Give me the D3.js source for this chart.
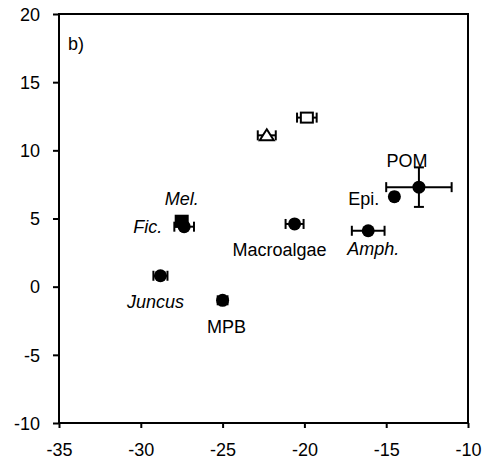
<!DOCTYPE html>
<html>
<head>
<meta charset="utf-8">
<script src="https://cdn.jsdelivr.net/npm/d3@7"></script>
<style>
  html, body { margin: 0; padding: 0; background: #fff; }
  svg { display: block; font-family: "Liberation Sans", Arial, sans-serif; }
</style>
</head>
<body>
<svg id="chart" width="491" height="468"></svg>
<script>
// Carbon (x) and nitrogen (y) isotope means with standard errors
const names  = ["Mel.", "Fic.", "Juncus", "MPB", "Macroalgae", "", "", "Amph.", "Epi.", "POM"];
const xMean  = [-27.5, -27.35, -28.8, -25.0, -20.6, -22.3, -19.85, -16.1, -14.5, -13.0];
const yMean  = [4.8, 4.4, 0.8, -1.0, 4.6, 11.1, 12.4, 4.1, 6.6, 7.3];
const xErr   = [0.0, 0.6, 0.43, 0.3, 0.55, 0.55, 0.6, 1.0, 0.2, 2.0];
const yErr   = [0.0, 0.0, 0.0, 0.0, 0.0, 0.0, 0.0, 0.0, 0.0, 1.45];
const shapes = ["fsquare", "circle", "circle", "circle", "circle", "otri", "osquare", "circle", "circle", "circle"];
const italic = [true, true, true, false, false, false, false, true, false, false];

const xTicks = [-35, -30, -25, -20, -15, -10];
const yTicks = [-10, -5, 0, 5, 10, 15, 20];
const panelLabel = "b)";

// label placement relative to each marker (pixels): dx, dy, anchor
const labelPlace = [
  [0, -16, "middle"], [-22, 6, "end"], [-5, 32, "middle"], [4, 33, "middle"],
  [-15, 32, "middle"], [0, 0, "middle"], [0, 0, "middle"], [5, 24, "middle"],
  [-15, 8, "end"], [-12, -20, "middle"]
];

const svg = d3.select("#chart");
const L = 59, R = 468, T = 14, B = 423;

const x = d3.scaleLinear().domain([-35, -10]).range([L, R]);
const y = d3.scaleLinear().domain([-10, 20]).range([B, T]);

// axes (plain hyphen for negative numbers)
const fmt = d => String(d);
const xAxis = d3.axisBottom(x).tickValues(xTicks).tickSize(5).tickPadding(15).tickFormat(fmt);
const yAxis = d3.axisLeft(y).tickValues(yTicks).tickSize(6).tickPadding(13).tickFormat(fmt);

const gx = svg.append("g").attr("transform", `translate(0,${B})`).call(xAxis);
const gy = svg.append("g").attr("transform", `translate(${L},0)`).call(yAxis);
[gx, gy].forEach(g => {
  g.select(".domain").remove();
  g.selectAll(".tick line").attr("stroke", "#000").attr("stroke-width", 2);
  g.selectAll(".tick text").attr("fill", "#000")
    .style("font-size", "18px").style("font-family", "'Liberation Sans', Arial, sans-serif");
});
gy.selectAll(".tick text").attr("dy", "0.35em");

// frame
svg.append("rect")
  .attr("x", L).attr("y", T).attr("width", R - L).attr("height", B - T)
  .attr("fill", "none").attr("stroke", "#000").attr("stroke-width", 2);

svg.append("text").attr("x", 68).attr("y", 50).text(panelLabel)
  .style("font-size", "18px").attr("fill", "#000");

const idx = d3.range(names.length);
const cap = 5;

// error bars
const eb = svg.append("g").attr("stroke", "#000").attr("stroke-width", 2).attr("fill", "none");
idx.forEach(i => {
  if (xErr[i] > 0) {
    const x0 = x(xMean[i] - xErr[i]), x1 = x(xMean[i] + xErr[i]), yy = y(yMean[i]);
    eb.append("line").attr("x1", x0).attr("x2", x1).attr("y1", yy).attr("y2", yy);
    eb.append("line").attr("x1", x0).attr("x2", x0).attr("y1", yy - cap).attr("y2", yy + cap);
    eb.append("line").attr("x1", x1).attr("x2", x1).attr("y1", yy - cap).attr("y2", yy + cap);
  }
  if (yErr[i] > 0) {
    const y0 = y(yMean[i] - yErr[i]), y1 = y(yMean[i] + yErr[i]), xx = x(xMean[i]);
    eb.append("line").attr("x1", xx).attr("x2", xx).attr("y1", y0).attr("y2", y1);
    eb.append("line").attr("x1", xx - cap).attr("x2", xx + cap).attr("y1", y0).attr("y2", y0);
    eb.append("line").attr("x1", xx - cap).attr("x2", xx + cap).attr("y1", y1).attr("y2", y1);
  }
});

// markers
const mk = svg.append("g");
idx.forEach(i => {
  const cx = x(xMean[i]), cy = y(yMean[i]);
  if (shapes[i] === "circle") {
    mk.append("circle").attr("cx", cx).attr("cy", cy).attr("r", 6.5).attr("fill", "#000");
  } else if (shapes[i] === "fsquare") {
    mk.append("rect").attr("x", cx - 7).attr("y", cy - 6.5).attr("width", 14).attr("height", 13)
      .attr("fill", "#000");
  } else if (shapes[i] === "osquare") {
    mk.append("rect").attr("x", cx - 6).attr("y", cy - 5).attr("width", 12).attr("height", 10)
      .attr("fill", "#fff").attr("stroke", "#000").attr("stroke-width", 2);
  } else if (shapes[i] === "otri") {
    mk.append("path").attr("d", `M${cx},${cy - 6} L${cx + 7},${cy + 5} L${cx - 7},${cy + 5} Z`)
      .attr("fill", "#fff").attr("stroke", "#000").attr("stroke-width", 2);
  }
});

// source labels
const lb = svg.append("g").style("font-size", "18px").attr("fill", "#000");
idx.forEach(i => {
  if (!names[i]) return;
  const p = labelPlace[i];
  lb.append("text")
    .attr("x", x(xMean[i]) + p[0]).attr("y", y(yMean[i]) + p[1])
    .attr("text-anchor", p[2])
    .style("font-style", italic[i] ? "italic" : "normal")
    .text(names[i]);
});
</script>
</body>
</html>
